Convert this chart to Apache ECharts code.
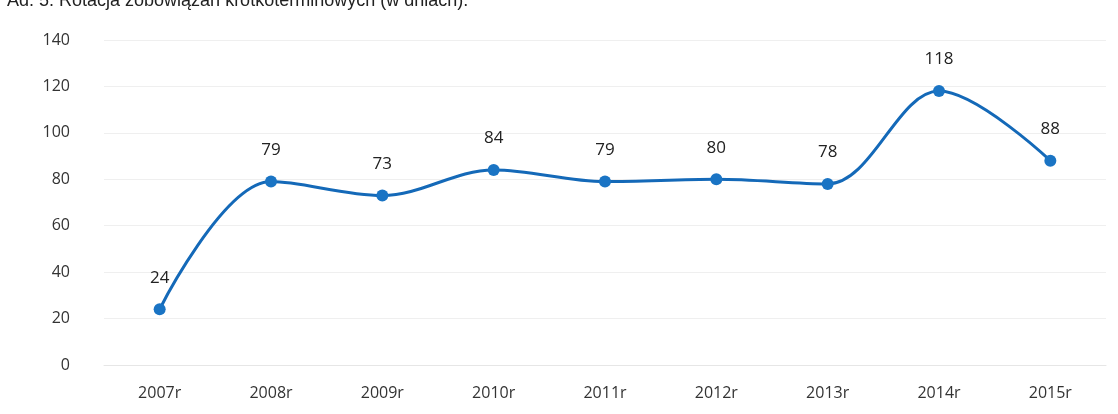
<!DOCTYPE html>
<html><head><meta charset="utf-8">
<script src="https://cdn.jsdelivr.net/npm/echarts@6/dist/echarts.min.js"></script>
<style>html,body{margin:0;padding:0;background:#fff}#c{width:1118px;height:414px}</style>
</head><body><div id="c"></div>
<script>
const categories = ['2007r','2008r','2009r','2010r','2011r','2012r','2013r','2014r','2015r'];
const values = [24, 79, 73, 84, 79, 80, 78, 118, 88];
const titleText = 'Ad. 5. Rotacja zobowiązań krótkoterminowych (w dniach).';
const chart = echarts.init(document.getElementById('c'));
chart.setOption({
  backgroundColor: '#fff',
  animation: false,
  title: { text: titleText, left: 2, top: -13, textStyle: { fontFamily: 'Arial, Liberation Sans', fontSize: 18, fontWeight: 'normal', color: '#222' } },
  grid: { left: 104, right: 12, top: 40, bottom: 49 },
  xAxis: {
    type: 'category', data: categories, boundaryGap: true,
    axisLine: { show: true, lineStyle: { color: '#e6e6e6' } },
    axisTick: { show: false },
    axisLabel: { margin: 20, fontSize: 16, color: '#333', fontFamily: 'Open Sans' }
  },
  yAxis: {
    type: 'value', min: 0, max: 140, interval: 20,
    axisLine: { show: false }, axisTick: { show: false },
    splitLine: { lineStyle: { color: '#efefef' } },
    axisLabel: { margin: 34, fontSize: 16, color: '#333', fontFamily: 'Open Sans' }
  },
  series: [{
    type: 'line', data: values, smooth: 0.35,
    symbol: 'circle', symbolSize: 12,
    lineStyle: { color: '#1469b8', width: 3 },
    itemStyle: { color: '#1a74c4' },
    label: { show: true, position: 'top', distance: 17, fontSize: 17, color: '#222', fontFamily: 'Open Sans' }
  }]
});
</script></body></html>
